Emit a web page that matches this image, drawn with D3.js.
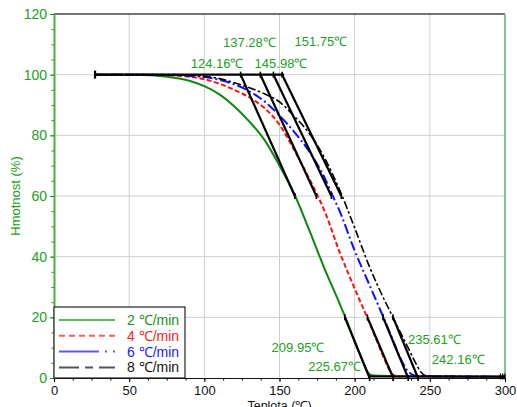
<!DOCTYPE html>
<html>
<head>
<meta charset="utf-8">
<script src="https://cdn.jsdelivr.net/npm/d3@7"></script>
<style>
  body { margin: 0; background: #fff; }
  svg { display: block; font-family: "Liberation Sans", Arial, sans-serif; }
</style>
</head>
<body>
<div class="canvas"></div>
<script>
// curve data (temperature in C, mass in %)
const rate2T = [27, 60, 70, 80, 90, 100, 110, 120, 130, 140, 150, 160, 170, 180, 190, 195, 200, 205, 208, 210, 213, 230, 260, 300];
const rate2M = [100, 99.9, 99.6, 99, 98, 96.2, 93.5, 89.5, 84.5, 78.5, 70, 60.5, 48.5, 36, 24.5, 18.5, 12, 6, 2.5, 1.2, 0.8, 0.6, 0.5, 0.4];
const rate4T = [27, 70, 80, 90, 100, 110, 120, 130, 140, 150, 160, 170, 175, 180, 190, 200, 210, 215, 220, 224, 226, 230, 260, 300];
const rate4M = [100, 99.9, 99.7, 99.3, 98.5, 97, 95, 92.5, 89, 83.5, 75, 65.5, 60.5, 55, 41.5, 29.5, 18, 12, 6, 2, 0.9, 0.6, 0.5, 0.4];
const rate6T = [27, 80, 90, 100, 110, 120, 130, 140, 150, 160, 170, 180, 185, 190, 200, 210, 220, 225, 230, 235, 238, 242, 260, 300];
const rate6M = [100, 99.9, 99.6, 99.2, 98.3, 96.8, 94.5, 91.2, 86.5, 81, 74.5, 66, 60.5, 55, 42, 30.5, 19, 13, 7, 2.5, 1.2, 0.7, 0.5, 0.4];
const rate8T = [27, 80, 90, 100, 110, 120, 130, 140, 150, 160, 170, 180, 190, 200, 210, 220, 225, 230, 235, 240, 244, 247, 250, 270, 300];
const rate8M = [100, 100, 99.8, 99.5, 98.7, 97.3, 95.7, 93.7, 91, 86.2, 80.5, 72.5, 62, 49.5, 36.5, 25.5, 20.5, 15.5, 10.5, 5.5, 2, 0.8, 0.6, 0.5, 0.4];

const rateNames = ["2 ℃/min", "4 ℃/min", "6 ℃/min", "8 ℃/min"];

// tangent construction: onset at 100 %, end of top piece at 60 %, start of bottom piece at 20 %, endset at 0 %
const onsetT = [124.16, 137.28, 145.98, 151.75];
const tanAt60 = [160.2, 174.5, 184.5, 191.1];
const tanAt20 = [193.5, 208.5, 218.9, 225.5];
const endsetT = [209.95, 225.67, 235.61, 242.16];
const baseStart = 27.3;

const xTicks = [0, 50, 100, 150, 200, 250, 300];
const yTicks = [0, 20, 40, 60, 80, 100, 120];

const width = 517, height = 407;
const margin = { top: 14, right: 12, bottom: 29, left: 54 };

const green = "#1b8f1b", labelGreen = "#22a022";

const svg = d3.select(".canvas").append("svg").attr("width", width).attr("height", height);

const x = d3.scaleLinear().domain([0, 300]).range([margin.left, width - margin.right]);
const y = d3.scaleLinear().domain([0, 120]).range([height - margin.bottom, margin.top]);

// grid
svg.append("g").selectAll("line").data(xTicks.slice(1, -1)).join("line")
  .attr("x1", d => x(d)).attr("x2", d => x(d))
  .attr("y1", y(0)).attr("y2", y(120))
  .attr("stroke", "#cfcfcf").attr("stroke-width", 1);
svg.append("g").selectAll("line").data(yTicks.slice(1, -1)).join("line")
  .attr("x1", x(0)).attr("x2", x(300))
  .attr("y1", d => y(d)).attr("y2", d => y(d))
  .attr("stroke", "#cfcfcf").attr("stroke-width", 1);

// frame top + right
svg.append("line").attr("x1", x(0)).attr("x2", x(300)).attr("y1", y(120)).attr("y2", y(120))
  .attr("stroke", "#444").attr("stroke-width", 1.5);
svg.append("line").attr("x1", x(300)).attr("x2", x(300)).attr("y1", y(120)).attr("y2", y(0))
  .attr("stroke", "#86c486").attr("stroke-width", 2);

// axes
const xMinor = svg.append("g").attr("transform", `translate(0,${y(0)})`)
  .call(d3.axisBottom(x).tickValues(d3.range(0, 300.1, 12.5)).tickSize(2.5).tickFormat(""));
xMinor.select(".domain").remove();
const xAxis = svg.append("g").attr("transform", `translate(0,${y(0)})`)
  .call(d3.axisBottom(x).tickValues(xTicks).tickSize(4).tickSizeOuter(0));
xAxis.selectAll("text").attr("font-size", 13).attr("fill", "#111").attr("dy", "0.74em")
  .style("font-family", "Liberation Sans, Arial, sans-serif");
xAxis.select(".domain").attr("stroke", "#111").attr("stroke-width", 1.2);

const yMinor = svg.append("g").attr("transform", `translate(${x(0)},0)`)
  .call(d3.axisLeft(y).tickValues(d3.range(0, 120.1, 5)).tickSize(2.5).tickFormat(""));
yMinor.select(".domain").remove();
yMinor.selectAll("line").attr("stroke", green);
const yAxis = svg.append("g").attr("transform", `translate(${x(0)},0)`)
  .call(d3.axisLeft(y).tickValues(yTicks).tickSize(4).tickSizeOuter(0));
yAxis.selectAll("line").attr("stroke", green);
yAxis.select(".domain").attr("stroke", "#4caf4c").attr("stroke-width", 2);
yAxis.selectAll("text").attr("font-size", 14).attr("fill", labelGreen)
  .style("font-family", "Liberation Sans, Arial, sans-serif");

svg.append("text").attr("transform", `translate(20,${(y(0) + y(120)) / 2}) rotate(-90)`)
  .attr("text-anchor", "middle").attr("font-size", 13).attr("fill", labelGreen).text("Hmotnost (%)");
svg.append("text").attr("x", (x(0) + x(300)) / 2).attr("y", 409.5)
  .attr("text-anchor", "middle").attr("font-size", 12.5).attr("fill", "#111").text("Teplota (℃)");

// curves
const series = [
  { t: rate2T, m: rate2M, color: "#0f870f", dash: null },
  { t: rate4T, m: rate4M, color: "#ff1010", dash: "5,2.5" },
  { t: rate6T, m: rate6M, color: "#1010ff", dash: "10,3,2,3" },
  { t: rate8T, m: rate8M, color: "#000", dash: "8,2.5,2.5,2.5" }
];
const line = d3.line().x(d => x(d[0])).y(d => y(d[1])).curve(d3.curveMonotoneX);

svg.append("g").selectAll("path").data(series).join("path")
  .attr("d", s => line(s.t.map((t, i) => [t, s.m[i]])))
  .attr("fill", "none")
  .attr("stroke", s => s.color)
  .attr("stroke-width", s => s.color === "#000" ? 1.6 : 2)
  .attr("stroke-dasharray", s => s.dash);

// tangent construction lines
const tg = svg.append("g").attr("stroke", "#000").attr("stroke-width", 2.2).attr("fill", "none");
tg.append("line").attr("x1", x(baseStart)).attr("x2", x(onsetT[3]) + 2)
  .attr("y1", y(100)).attr("y2", y(100));
tg.append("line").attr("x1", x(baseStart)).attr("x2", x(baseStart))
  .attr("y1", y(100) - 4).attr("y2", y(100) + 4);
tg.append("line").attr("x1", x(endsetT[0])).attr("x2", x(300))
  .attr("y1", y(0.5)).attr("y2", y(0.5));
[297, 298.5, 300].forEach(t => {
  tg.append("line").attr("x1", x(t)).attr("x2", x(t)).attr("y1", y(0.5) - 3).attr("y2", y(0.5) + 3)
    .attr("stroke-width", 1.2);
});
onsetT.forEach((o, i) => {
  tg.append("line").attr("x1", x(o)).attr("y1", y(100)).attr("x2", x(tanAt60[i])).attr("y2", y(60));
  tg.append("line").attr("x1", x(tanAt20[i])).attr("y1", y(20)).attr("x2", x(endsetT[i])).attr("y2", y(0));
  [[o, 100], [tanAt60[i], 60], [tanAt20[i], 20], [endsetT[i], 0]].forEach(p => {
    tg.append("line").attr("x1", x(p[0])).attr("x2", x(p[0]))
      .attr("y1", y(p[1]) - 3).attr("y2", y(p[1]) + 3).attr("stroke-width", 1.6);
  });
});

// temperature annotations, placed at (temp, %) positions
const onsetLabelPos = [[108.5, 102.3], [130, 109.2], [151, 102.3], [177.5, 109.6]];
const endsetLabelPos = [[162.3, 8.7], [186.7, 2.4], [253, 11.3], [268.9, 4.7]];
const ann = svg.append("g").attr("font-size", 13).attr("fill", labelGreen).attr("text-anchor", "middle");
onsetT.forEach((o, i) => {
  ann.append("text").attr("x", x(onsetLabelPos[i][0])).attr("y", y(onsetLabelPos[i][1]))
    .text(o.toFixed(2) + "℃");
});
endsetT.forEach((e, i) => {
  ann.append("text").attr("x", x(endsetLabelPos[i][0])).attr("y", y(endsetLabelPos[i][1]))
    .text(e.toFixed(2) + "℃");
});

// legend
const legendColors = ["#5cb85c", "#ff5a5a", "#5a5aff", "#555"];
const legendText = ["#1b8f1b", "#ff2020", "#2020ff", "#111"];
const legendDash = [null, "6,4", "40,6,2,6", "20,6,8,6"];
const lg = svg.append("g").attr("transform", `translate(${x(0)},${y(0) - 71})`);
lg.append("rect").attr("width", 131).attr("height", 71).attr("fill", "#fff")
  .attr("stroke", "#222").attr("stroke-width", 1.2);
rateNames.forEach((n, i) => {
  const yy = 13 + i * 15.8;
  lg.append("line").attr("x1", 5).attr("x2", 61).attr("y1", yy).attr("y2", yy)
    .attr("stroke", legendColors[i]).attr("stroke-width", 2).attr("stroke-dasharray", legendDash[i]);
  lg.append("text").attr("x", 73).attr("y", yy + 5).attr("font-size", 14)
    .attr("fill", legendText[i]).text(n);
});
</script>
</body>
</html>
